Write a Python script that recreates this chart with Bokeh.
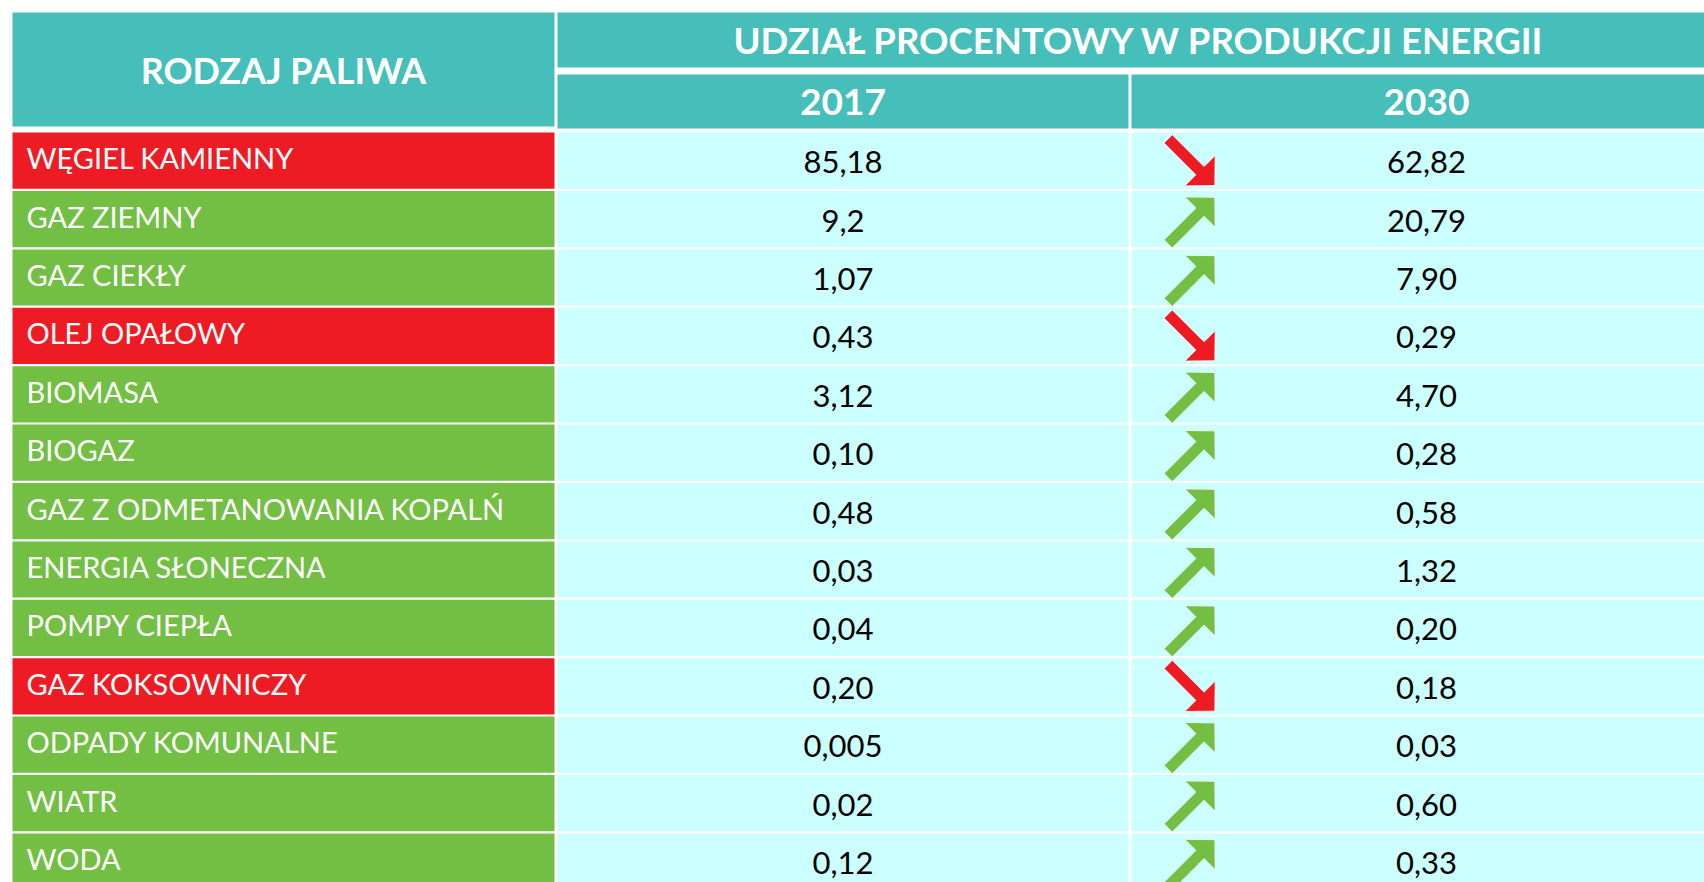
import math
from bokeh.plotting import figure
from bokeh.models import Range1d
from bokeh.core.properties import value
from bokeh.embed import file_html
from bokeh.resources import INLINE

# ---------------- data ----------------
fuels = ["WĘGIEL KAMIENNY", "GAZ ZIEMNY", "GAZ CIEKŁY", "OLEJ OPAŁOWY", "BIOMASA",
         "BIOGAZ", "GAZ Z ODMETANOWANIA KOPALŃ", "ENERGIA SŁONECZNA", "POMPY CIEPŁA",
         "GAZ KOKSOWNICZY", "ODPADY KOMUNALNE", "WIATR", "WODA"]
share_2017 = ["85,18", "9,2", "1,07", "0,43", "3,12", "0,10", "0,48", "0,03", "0,04",
              "0,20", "0,005", "0,02", "0,12"]
share_2030 = ["62,82", "20,79", "7,90", "0,29", "4,70", "0,28", "0,58", "1,32", "0,20",
              "0,18", "0,03", "0,60", "0,33"]
col_header = "RODZAJ PALIWA"
group_header = "UDZIAŁ PROCENTOWY W PRODUKCJI ENERGII"
years = ["2017", "2030"]

# ---------------- style ----------------
TEAL = "#46BEB9"
CYAN = "#CCFFFF"
RED = "#ED1C24"
GREEN = "#72BF44"
FONT = "Lato"

W, H = 1704, 882
p = figure(width=W, height=H, output_backend="svg", toolbar_location=None,
           x_range=Range1d(0, W), y_range=Range1d(H, 0),
           x_axis_type=None, y_axis_type=None, min_border=0)
p.outline_line_color = None
p.grid.visible = False
p.background_fill_color = "white"
p.border_fill_color = "white"

# layout geometry (pixels)
c1 = (12, 554)
c2 = (557, 1128)
c3 = (1131, 1721)
row0 = 131.0
stride = 58.4
gap = 2.2

n = len(fuels)
v17 = [float(s.replace(",", ".")) for s in share_2017]
v30 = [float(s.replace(",", ".")) for s in share_2030]
up = [b > a for a, b in zip(v17, v30)]
row_col = [GREEN if u else RED for u in up]

tops = [row0 + i * stride + gap / 2 for i in range(n)]
bots = [t + stride - gap for t in tops]
mids = [(t + b) / 2 for t, b in zip(tops, bots)]

# header cells
p.quad(left=[c1[0], c2[0], c2[0], c3[0]], right=[c1[1], c3[1], c2[1], c3[1]],
       top=[12, 12, 74, 74], bottom=[126, 67, 128, 128],
       fill_color=TEAL, line_color=None)

# body cells
p.quad(left=[c1[0]] * n, right=[c1[1]] * n, top=tops, bottom=bots,
       fill_color=row_col, line_color=None)
p.quad(left=[c2[0]] * n + [c3[0]] * n, right=[c2[1]] * n + [c3[1]] * n,
       top=tops + tops, bottom=bots + bots, fill_color=CYAN, line_color=None)

# header texts
p.text(x=[(c1[0] + c1[1]) / 2], y=[69], text=[col_header], text_color="white",
       text_font=value(FONT), text_font_style="bold", text_font_size="36px",
       text_align="center", text_baseline="middle")
p.text(x=[1139], y=[39.5], text=[group_header], text_color="white",
       text_font=value(FONT), text_font_style="bold", text_font_size="36.5px",
       text_align="center", text_baseline="middle")
p.text(x=[(c2[0] + c2[1]) / 2, (c3[0] + c3[1]) / 2], y=[101, 101], text=years,
       text_color="white", text_font=value(FONT), text_font_style="bold",
       text_font_size="37px", text_align="center", text_baseline="middle")

# body texts
p.text(x=[c1[0] + 14] * n, y=[m - 3 for m in mids], text=fuels, text_color="white",
       text_font=value(FONT), text_font_size="29px", text_align="left",
       text_baseline="middle")
p.text(x=[(c2[0] + c2[1]) / 2] * n, y=[m + 1.5 for m in mids], text=share_2017,
       text_color="black", text_font=value(FONT), text_font_size="31px",
       text_align="center", text_baseline="middle")
p.text(x=[(c3[0] + c3[1]) / 2] * n, y=[m + 1.5 for m in mids], text=share_2030,
       text_color="black", text_font=value(FONT), text_font_size="31px",
       text_align="center", text_baseline="middle")

# trend arrows
L, HL, HW, SW = 66.0, 21.0, 21.5, 5.8
ax_c = 1191
xs, ys = [], []
for m, u in zip(mids, up):
    dx, dy = (1 / math.sqrt(2), -1 / math.sqrt(2)) if u else (1 / math.sqrt(2), 1 / math.sqrt(2))
    nx, ny = -dy, dx
    cx, cy = ax_c, m + 1.5
    tx, ty = cx - dx * L / 2, cy - dy * L / 2
    px, py = cx + dx * L / 2, cy + dy * L / 2
    bx, by = px - dx * HL, py - dy * HL
    pts = [(tx + nx * SW, ty + ny * SW), (bx + nx * SW, by + ny * SW),
           (bx + nx * HW, by + ny * HW), (px, py),
           (bx - nx * HW, by - ny * HW), (bx - nx * SW, by - ny * SW),
           (tx - nx * SW, ty - ny * SW)]
    xs.append([q[0] for q in pts])
    ys.append([q[1] for q in pts])
p.patches(xs=xs, ys=ys, fill_color=row_col, line_color="white", line_width=0.8)

open("out.html", "w").write(file_html(p, INLINE))
